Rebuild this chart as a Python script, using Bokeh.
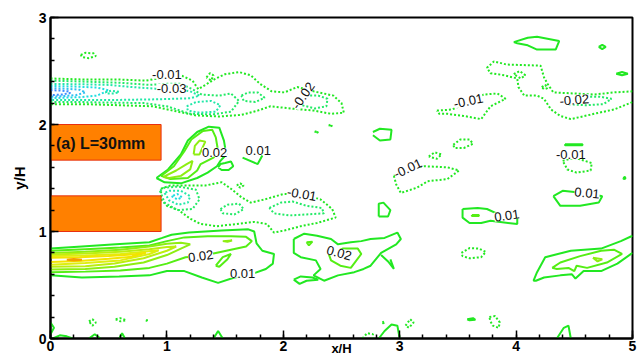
from bokeh.plotting import figure
from bokeh.models import ColumnDataSource, SingleIntervalTicker
from bokeh.embed import file_html
from bokeh.resources import INLINE
from bokeh.core.properties import value

# ---------------- data (x/H, y/H) ----------------
x_ticks_interval = 1
y_ticks_interval = 1

level_values = [-0.06, -0.05, -0.04, -0.03, -0.02, -0.01, 0.01, 0.02, 0.03, 0.04, 0.05, 0.06, 0.07]
level_colors = ["#3C8CFF", "#30C0F0", "#20DDE0", "#22E8A8", "#22EA66", "#22E822",
                "#22E822", "#55EE14", "#8EEE12", "#BBEE10", "#DDEE10", "#F2E400", "#F5A000"]

# cylinders (orange blocks)
block_left = [0.0, 0.0]
block_right = [0.95, 0.95]
block_bottom = [1.667, 1.0]
block_top = [2.0, 1.333]

# ---- positive (solid) contours ----
lo1_x = [0, 0.27, 0.56, 0.85, 0.96, 1.04, 1.19, 1.47, 1.70, 1.75, 1.77, 1.82, 1.92, 1.91, 1.85, 1.70, 1.58, 1.44, 1.30, 1.15, 1.0, 0.85, 0.59, 0.27, 0]
lo1_y = [0.84, 0.86, 0.88, 0.90, 0.94, 0.97, 0.99, 1.01, 1.02, 1.00, 0.89, 0.82, 0.79, 0.70, 0.65, 0.59, 0.57, 0.52, 0.57, 0.63, 0.63, 0.59, 0.58, 0.57, 0.59]
lo2_x = [0, 0.3, 0.6, 0.85, 1.0, 1.15, 1.35, 1.55, 1.68, 1.73, 1.68, 1.55, 1.42, 1.29, 1.16, 1.0, 0.85, 0.6, 0.3, 0]
lo2_y = [0.82, 0.835, 0.85, 0.87, 0.91, 0.945, 0.955, 0.955, 0.95, 0.91, 0.86, 0.83, 0.80, 0.77, 0.76, 0.70, 0.66, 0.635, 0.625, 0.62]
lo3_x = [0, 0.3, 0.6, 0.85, 1.0, 1.12, 1.2, 1.12, 1.0, 0.8, 0.55, 0.3, 0]
lo3_y = [0.80, 0.81, 0.83, 0.86, 0.885, 0.895, 0.88, 0.84, 0.78, 0.71, 0.67, 0.65, 0.645]
lo4_x = [0, 0.3, 0.6, 0.85, 1.0, 1.08, 1.0, 0.8, 0.55, 0.3, 0]
lo4_y = [0.785, 0.795, 0.81, 0.835, 0.855, 0.86, 0.82, 0.75, 0.70, 0.675, 0.67]
lo5_x = [0, 0.3, 0.6, 0.8, 0.93, 0.85, 0.6, 0.3, 0]
lo5_y = [0.77, 0.775, 0.79, 0.81, 0.825, 0.79, 0.73, 0.705, 0.69]
lo6_x = [0, 0.25, 0.5, 0.7, 0.82, 0.7, 0.5, 0.25, 0]
lo6_y = [0.755, 0.76, 0.77, 0.785, 0.80, 0.765, 0.745, 0.725, 0.715]
lo7_x = [0.14, 0.2, 0.27, 0.2, 0.14]
lo7_y = [0.735, 0.742, 0.735, 0.728, 0.735]
loa_x = [1.42, 1.48, 1.55, 1.52, 1.45, 1.42]
loa_y = [0.68, 0.76, 0.79, 0.74, 0.67, 0.68]
lob_x = [1.48, 1.56, 1.52, 1.48]
lob_y = [0.91, 0.915, 0.905, 0.91]

ub1_x = [0.91, 1.01, 1.12, 1.18, 1.26, 1.36, 1.45, 1.49, 1.51, 1.46, 1.43, 1.35, 1.26, 1.12, 0.98, 0.91]
ub1_y = [1.50, 1.58, 1.72, 1.85, 1.93, 1.98, 1.97, 1.85, 1.72, 1.66, 1.61, 1.55, 1.50, 1.45, 1.46, 1.50]
ubb_x = [1.44, 1.47, 1.53, 1.57, 1.55, 1.50, 1.46, 1.44]
ubb_y = [1.60, 1.575, 1.575, 1.61, 1.655, 1.64, 1.63, 1.60]
ub2_x = [0.95, 1.06, 1.15, 1.21, 1.31, 1.39, 1.42, 1.44, 1.40, 1.29, 1.26, 1.18, 1.03, 0.95]
ub2_y = [1.52, 1.61, 1.75, 1.86, 1.94, 1.95, 1.88, 1.75, 1.69, 1.63, 1.57, 1.50, 1.49, 1.52]
ub3a_x = [0.97, 1.08, 1.17, 1.22, 1.20, 1.12, 1.02, 0.97]
ub3a_y = [1.51, 1.57, 1.63, 1.66, 1.58, 1.52, 1.50, 1.51]
ub3b_x = [1.23, 1.24, 1.28, 1.33, 1.30, 1.28, 1.23]
ub3b_y = [1.72, 1.80, 1.85, 1.84, 1.77, 1.72, 1.72]
ubv_x = [1.65, 1.78, 1.82]
ubv_y = [1.69, 1.63, 1.71]

sa_x = [2.77, 2.83, 2.93, 2.92, 2.83, 2.77]
sa_y = [1.93, 1.96, 1.95, 1.86, 1.85, 1.90]
sb_x = [2.82, 2.82, 2.86, 2.92, 2.90, 2.82]
sb_y = [1.14, 1.26, 1.27, 1.20, 1.14, 1.14]

rtop_x = [3.98, 4.10, 4.18, 4.37, 4.34, 4.18, 4.10, 4.01, 3.98]
rtop_y = [2.77, 2.81, 2.82, 2.78, 2.70, 2.70, 2.74, 2.76, 2.77]
rdia_x = [4.71, 4.74, 4.77, 4.74, 4.71]
rdia_y = [2.725, 2.745, 2.725, 2.705, 2.725]
rblob_x = [4.86, 4.91, 4.96, 4.91, 4.86]
rblob_y = [2.475, 2.49, 2.475, 2.46, 2.475]
rdash_x = [4.42, 4.57, 4.57, 4.42, 4.42]
rdash_y = [1.815, 1.815, 1.805, 1.805, 1.815]
rl1_x = [4.32, 4.40, 4.50, 4.61, 4.74, 4.71, 4.55, 4.38, 4.32]
rl1_y = [1.33, 1.38, 1.37, 1.36, 1.33, 1.27, 1.24, 1.24, 1.33]
rl2_x = [3.54, 3.67, 3.75, 3.85, 4.01, 4.01, 3.78, 3.70, 3.60, 3.54, 3.54]
rl2_y = [1.21, 1.22, 1.21, 1.16, 1.13, 1.07, 1.10, 1.08, 1.08, 1.13, 1.21]
rl2i_x = [3.62, 3.68, 3.68, 3.62, 3.62]
rl2i_y = [1.155, 1.155, 1.145, 1.145, 1.155]
rtiny_x = [4.92, 4.935, 4.94, 4.925, 4.92]
rtiny_y = [1.50, 1.51, 1.495, 1.49, 1.50]

rb1_x = [5.0, 4.90, 4.73, 4.47, 4.25, 4.18, 4.15, 4.17, 4.24, 4.38, 4.48, 4.51, 4.58, 4.73, 4.87, 5.0]
rb1_y = [0.96, 0.91, 0.84, 0.82, 0.76, 0.62, 0.54, 0.54, 0.57, 0.59, 0.60, 0.56, 0.63, 0.63, 0.70, 0.80]
rb2_x = [4.31, 4.38, 4.55, 4.73, 4.84, 4.91, 4.78, 4.61, 4.52, 4.50, 4.45, 4.35, 4.31]
rb2_y = [0.66, 0.71, 0.77, 0.82, 0.83, 0.79, 0.71, 0.66, 0.68, 0.63, 0.66, 0.65, 0.66]
rb3_x = [4.66, 4.74, 4.70, 4.66]
rb3_y = [0.755, 0.74, 0.72, 0.755]

mb1_x = [2.09, 2.18, 2.29, 2.41, 2.47, 2.58, 2.67, 2.75, 2.87, 2.98, 3.01, 2.97, 2.84, 2.75, 2.69, 2.61, 2.47, 2.35, 2.26, 2.32, 2.28, 2.15, 2.09, 2.09]
mb1_y = [0.93, 0.98, 0.96, 0.93, 0.88, 0.90, 0.91, 0.93, 0.94, 0.99, 0.93, 0.88, 0.80, 0.68, 0.65, 0.62, 0.59, 0.54, 0.59, 0.65, 0.73, 0.76, 0.80, 0.93]
mbt_x = [2.09, 2.15, 2.25, 2.30, 2.20, 2.14, 2.09]
mbt_y = [0.55, 0.58, 0.57, 0.55, 0.54, 0.51, 0.55]
mb2_x = [2.39, 2.51, 2.64, 2.67, 2.58, 2.49, 2.41, 2.39]
mb2_y = [0.79, 0.84, 0.84, 0.79, 0.66, 0.68, 0.73, 0.79]
mbs_x = [2.20, 2.25, 2.22, 2.20]
mbs_y = [0.90, 0.905, 0.87, 0.90]
mbk_x = [2.84, 2.90, 2.95, 2.92]
mbk_y = [0.78, 0.72, 0.65, 0.74]

bl1_x = [0, 0.03, 0.0]
bl1_y = [0.15, 0.10, 0.04]
bl2_x = [0.02, 0.08, 0.14, 0.19]
bl2_y = [0.0, 0.03, 0.02, 0.0]
bl3_x = [0.33, 0.38, 0.43]
bl3_y = [0.0, 0.04, 0.0]
bl4_x = [0.59, 0.615, 0.64]
bl4_y = [0.0, 0.05, 0.0]
bl5_x = [1.40, 1.44, 1.48]
bl5_y = [0.0, 0.07, 0.0]
bl6_x = [2.82, 2.87, 2.93, 2.98, 3.0]
bl6_y = [0.0, 0.07, 0.13, 0.12, 0.0]
bl7_x = [4.35, 4.41, 4.45, 4.47]
bl7_y = [0.0, 0.1, 0.12, 0.0]
bl8_x = [3.58, 3.63, 3.65, 3.60, 3.58]
bl8_y = [0.18, 0.19, 0.175, 0.17, 0.18]

# ---- negative (dotted) contours ----
tn1_x = [0, 0.3, 0.6, 0.82, 0.92, 1.0, 1.12, 1.22, 1.27, 1.33, 1.42, 1.50, 1.62, 1.72, 1.80, 1.90, 2.01, 2.12, 2.26, 2.43, 2.50, 2.52, 2.41, 2.26, 2.06, 1.89, 1.78, 1.64, 1.45, 1.25, 1.05, 0.88, 0.6, 0.3, 0]
tn1_y = [2.43, 2.42, 2.42, 2.41, 2.43, 2.45, 2.46, 2.41, 2.33, 2.37, 2.43, 2.47, 2.49, 2.46, 2.38, 2.31, 2.30, 2.35, 2.31, 2.27, 2.20, 2.11, 2.10, 2.13, 2.15, 2.17, 2.13, 2.09, 2.075, 2.085, 2.13, 2.17, 2.18, 2.19, 2.19]
tn2_x = [0, 0.3, 0.6, 0.85, 1.0, 1.12, 1.22, 1.3, 1.45, 1.55, 1.62, 1.55, 1.40, 1.20, 1.0, 0.8, 0.5, 0.25, 0]
tn2_y = [2.41, 2.40, 2.39, 2.37, 2.38, 2.38, 2.33, 2.28, 2.27, 2.29, 2.22, 2.12, 2.095, 2.10, 2.17, 2.20, 2.205, 2.21, 2.21]
tn2b_x = [1.64, 1.70, 1.78, 1.84, 1.76, 1.66, 1.64]
tn2b_y = [2.27, 2.30, 2.30, 2.25, 2.21, 2.22, 2.27]
tn2c_x = [2.13, 2.20, 2.30, 2.38, 2.37, 2.27, 2.16, 2.13]
tn2c_y = [2.25, 2.27, 2.27, 2.24, 2.17, 2.15, 2.18, 2.25]
tn3_x = [0, 0.3, 0.5, 0.7, 0.9, 1.05, 1.2, 1.28, 1.2, 1.05, 0.9, 0.6, 0.3, 0]
tn3_y = [2.38, 2.375, 2.37, 2.35, 2.335, 2.33, 2.31, 2.27, 2.245, 2.24, 2.235, 2.23, 2.23, 2.23]
tn3b_x = [1.17, 1.25, 1.38, 1.46, 1.42, 1.28, 1.18, 1.17]
tn3b_y = [2.17, 2.21, 2.22, 2.18, 2.12, 2.11, 2.13, 2.17]
tn4_x = [0, 0.2, 0.4, 0.5, 0.4, 0.25, 0.1, 0]
tn4_y = [2.36, 2.355, 2.345, 2.32, 2.27, 2.255, 2.25, 2.245]
tn5_x = [0, 0.12, 0.25, 0.3, 0.22, 0.1, 0]
tn5_y = [2.34, 2.335, 2.325, 2.30, 2.275, 2.265, 2.26]
tn6_x = [0, 0.08, 0.15, 0.17, 0.1, 0]
tn6_y = [2.32, 2.318, 2.31, 2.295, 2.28, 2.275]
tnl_x = [0.47, 0.52, 0.59, 0.55, 0.49, 0.47]
tnl_y = [2.30, 2.315, 2.305, 2.29, 2.29, 2.30]
tns1_x = [0.26, 0.3, 0.37, 0.39, 0.33, 0.27, 0.26]
tns1_y = [2.65, 2.67, 2.665, 2.64, 2.62, 2.63, 2.65]
tns2_x = [1.34, 1.37, 1.40, 1.38, 1.34]
tns2_y = [2.44, 2.48, 2.46, 2.41, 2.44]
tns3_x = [2.27, 2.29, 2.30, 2.28, 2.27]
tns3_y = [1.93, 1.94, 1.93, 1.92, 1.93]
tns4_x = [2.39, 2.41, 2.42, 2.40, 2.39]
tns4_y = [1.99, 2.0, 1.99, 1.98, 1.99]

mn1_x = [0.95, 1.03, 1.21, 1.33, 1.47, 1.55, 1.64, 1.72, 1.84, 2.0, 2.16, 2.32, 2.42, 2.45, 2.29, 2.15, 2.01, 1.92, 1.86, 1.75, 1.60, 1.43, 1.29, 1.20, 1.10, 1.0, 0.95, 0.95]
mn1_y = [1.40, 1.43, 1.43, 1.43, 1.46, 1.40, 1.32, 1.27, 1.30, 1.35, 1.35, 1.30, 1.21, 1.13, 1.08, 1.05, 1.01, 0.99, 1.07, 1.09, 1.07, 1.05, 1.07, 1.12, 1.20, 1.24, 1.30, 1.40]
mn2_x = [0.94, 0.98, 1.09, 1.22, 1.28, 1.25, 1.10, 0.98, 0.94]
mn2_y = [1.38, 1.27, 1.20, 1.21, 1.30, 1.39, 1.42, 1.41, 1.38]
mn3_x = [0.98, 1.02, 1.10, 1.18, 1.20, 1.12, 1.02, 0.98]
mn3_y = [1.36, 1.29, 1.25, 1.27, 1.33, 1.38, 1.38, 1.36]
mn4_x = [1.04, 1.09, 1.13, 1.09, 1.04]
mn4_y = [1.33, 1.30, 1.32, 1.35, 1.33]
mn5_x = [1.46, 1.52, 1.62, 1.66, 1.58, 1.48, 1.46]
mn5_y = [1.21, 1.25, 1.26, 1.21, 1.16, 1.17, 1.21]
mn6_x = [1.88, 1.98, 2.08, 2.20, 2.33, 2.35, 2.20, 2.05, 1.92, 1.88]
mn6_y = [1.22, 1.27, 1.28, 1.24, 1.22, 1.17, 1.16, 1.15, 1.17, 1.22]
mns_x = [1.60, 1.63, 1.66, 1.63, 1.60]
mns_y = [1.43, 1.45, 1.43, 1.41, 1.43]

rt1_x = [5.0, 4.84, 4.67, 4.50, 4.32, 4.27, 4.24, 4.21, 3.92, 3.81, 3.75, 3.78, 3.90, 4.01, 4.02, 4.07, 4.18, 4.24, 4.30, 4.38, 4.47, 4.67, 4.84, 5.0]
rt1_y = [2.31, 2.30, 2.28, 2.29, 2.30, 2.38, 2.44, 2.55, 2.56, 2.59, 2.53, 2.48, 2.46, 2.43, 2.35, 2.27, 2.27, 2.24, 2.14, 2.08, 2.05, 2.10, 2.14, 2.21]
rt2_x = [4.40, 4.55, 4.72, 4.82, 4.75, 4.60, 4.45, 4.40]
rt2_y = [2.22, 2.26, 2.26, 2.24, 2.19, 2.18, 2.19, 2.22]
rt3_x = [3.98, 4.03, 4.08, 4.04, 3.98]
rt3_y = [2.47, 2.50, 2.46, 2.43, 2.47]
rt4_x = [4.22, 4.25, 4.27, 4.24, 4.22]
rt4_y = [2.35, 2.37, 2.34, 2.33, 2.35]
rt5_x = [3.32, 3.45, 3.59, 3.72, 3.84, 3.91, 3.78, 3.70, 3.55, 3.41, 3.34, 3.32]
rt5_y = [2.13, 2.14, 2.21, 2.28, 2.29, 2.24, 2.17, 2.05, 2.08, 2.10, 2.10, 2.13]
rt6_x = [3.46, 3.52, 3.60, 3.63, 3.55, 3.47, 3.46]
rt6_y = [1.81, 1.86, 1.86, 1.82, 1.78, 1.78, 1.81]
rt7_x = [2.95, 3.07, 3.21, 3.41, 3.51, 3.41, 3.24, 3.15, 3.01, 2.97, 2.95]
rt7_y = [1.52, 1.59, 1.61, 1.60, 1.57, 1.49, 1.47, 1.41, 1.36, 1.44, 1.52]
rt8_x = [3.25, 3.30, 3.36, 3.32, 3.25]
rt8_y = [1.70, 1.74, 1.72, 1.68, 1.70]
rt9_x = [4.40, 4.50, 4.65, 4.64, 4.52, 4.44, 4.40]
rt9_y = [1.66, 1.69, 1.64, 1.57, 1.55, 1.58, 1.66]
rt10_x = [3.53, 3.60, 3.68, 3.74, 3.70, 3.60, 3.54, 3.53]
rt10_y = [0.80, 0.845, 0.84, 0.81, 0.76, 0.75, 0.77, 0.80]

bd1_x = [0.33, 0.36, 0.39, 0.36, 0.33]
bd1_y = [0.16, 0.18, 0.15, 0.12, 0.16]
bd2_x = [0.56, 0.60, 0.65, 0.60, 0.56]
bd2_y = [0.18, 0.19, 0.17, 0.16, 0.18]
bd3_x = [0.82, 0.84, 0.83, 0.82]
bd3_y = [0.17, 0.17, 0.16, 0.17]
bd4_x = [2.68, 2.72, 2.77, 2.77]
bd4_y = [0.0, 0.05, 0.04, 0.0]
bd5_x = [3.05, 3.09, 3.12, 3.08, 3.05]
bd5_y = [0.12, 0.18, 0.15, 0.10, 0.12]
bd6_x = [3.77, 3.82, 3.86, 3.85, 3.80, 3.78, 3.77]
bd6_y = [0.20, 0.21, 0.15, 0.10, 0.12, 0.16, 0.20]
bd7_x = [2.85, 2.87, 2.86, 2.85]
bd7_y = [0.15, 0.16, 0.14, 0.15]

# contour labels
lab_x = [1.00, 1.04, 2.17, 1.41, 1.785, 2.16, 1.29, 1.65, 2.48, 3.59, 4.50, 3.07, 4.47, 4.61, 3.92]
lab_y = [2.47, 2.34, 2.27, 1.74, 1.76, 1.35, 0.77, 0.61, 0.80, 2.22, 2.23, 1.59, 1.72, 1.36, 1.15]
lab_text = ["-0.01", "-0.03", "-0.02", "0.02", "0.01", "-0.01", "0.02", "0.01", "0.02",
            "-0.01", "-0.02", "-0.01", "-0.01", "0.01", "0.01"]
lab_angle = [0, 0, 55, 0, 0, -10, 8, 0, -15, 12, 5, 25, 0, -5, 8]

contours = [
    (0.01, lo1_x, lo1_y), (0.02, lo2_x, lo2_y), (0.03, lo3_x, lo3_y), (0.04, lo4_x, lo4_y),
    (0.05, lo5_x, lo5_y), (0.06, lo6_x, lo6_y), (0.07, lo7_x, lo7_y), (0.02, loa_x, loa_y),
    (0.03, lob_x, lob_y),
    (0.01, ub1_x, ub1_y), (0.01, ubb_x, ubb_y), (0.02, ub2_x, ub2_y), (0.03, ub3a_x, ub3a_y),
    (0.03, ub3b_x, ub3b_y), (0.01, ubv_x, ubv_y), (0.01, sa_x, sa_y), (0.01, sb_x, sb_y),
    (0.01, rtop_x, rtop_y), (0.01, rdia_x, rdia_y), (0.01, rblob_x, rblob_y), (0.01, rdash_x, rdash_y),
    (0.01, rl1_x, rl1_y), (0.01, rl2_x, rl2_y), (0.02, rl2i_x, rl2i_y), (0.01, rtiny_x, rtiny_y),
    (0.01, rb1_x, rb1_y), (0.02, rb2_x, rb2_y), (0.03, rb3_x, rb3_y),
    (0.01, mb1_x, mb1_y), (0.01, mbt_x, mbt_y), (0.02, mb2_x, mb2_y), (0.02, mbs_x, mbs_y),
    (0.01, mbk_x, mbk_y),
    (0.01, bl1_x, bl1_y), (0.01, bl2_x, bl2_y), (0.01, bl3_x, bl3_y), (0.01, bl4_x, bl4_y),
    (0.01, bl5_x, bl5_y), (0.01, bl6_x, bl6_y), (0.01, bl7_x, bl7_y), (0.01, bl8_x, bl8_y),
    (-0.01, tn1_x, tn1_y), (-0.02, tn2_x, tn2_y), (-0.02, tn2b_x, tn2b_y), (-0.02, tn2c_x, tn2c_y),
    (-0.03, tn3_x, tn3_y), (-0.03, tn3b_x, tn3b_y), (-0.04, tn4_x, tn4_y), (-0.05, tn5_x, tn5_y),
    (-0.06, tn6_x, tn6_y), (-0.03, tnl_x, tnl_y), (-0.01, tns1_x, tns1_y), (-0.01, tns2_x, tns2_y),
    (-0.01, tns3_x, tns3_y), (-0.01, tns4_x, tns4_y),
    (-0.01, mn1_x, mn1_y), (-0.02, mn2_x, mn2_y), (-0.03, mn3_x, mn3_y), (-0.04, mn4_x, mn4_y),
    (-0.02, mn5_x, mn5_y), (-0.02, mn6_x, mn6_y), (-0.01, mns_x, mns_y),
    (-0.01, rt1_x, rt1_y), (-0.02, rt2_x, rt2_y), (-0.01, rt3_x, rt3_y), (-0.01, rt4_x, rt4_y),
    (-0.01, rt5_x, rt5_y), (-0.01, rt6_x, rt6_y), (-0.01, rt7_x, rt7_y), (-0.01, rt8_x, rt8_y),
    (-0.01, rt9_x, rt9_y), (-0.01, rt10_x, rt10_y),
    (-0.01, bd1_x, bd1_y), (-0.01, bd2_x, bd2_y), (-0.01, bd3_x, bd3_y), (-0.01, bd4_x, bd4_y),
    (-0.01, bd5_x, bd5_y), (-0.01, bd6_x, bd6_y), (-0.01, bd7_x, bd7_y),
]

color_of = dict(zip(level_values, level_colors))

pos = dict(xs=[], ys=[], color=[])
neg = dict(xs=[], ys=[], color=[])
for lev, xs, ys in contours:
    d = pos if lev > 0 else neg
    d["xs"].append(xs)
    d["ys"].append(ys)
    d["color"].append(color_of[lev])

# ---------------- figure ----------------
FONT = "Liberation Sans"
p = figure(width=638, height=361, x_range=(0, 5), y_range=(0, 3),
           output_backend="svg", toolbar_location=None,
           min_border_left=50, min_border_right=6, min_border_top=17, min_border_bottom=23)
p.background_fill_color = "white"
p.border_fill_color = "white"
p.grid.visible = False
p.outline_line_color = "black"
p.outline_line_width = 2

p.multi_line(xs="xs", ys="ys", line_color="color", line_width=2,
             source=ColumnDataSource(pos))
p.multi_line(xs="xs", ys="ys", line_color="color", line_width=2, line_dash="2 2",
             source=ColumnDataSource(neg))

p.quad(left=block_left, right=block_right, bottom=block_bottom, top=block_top,
       fill_color="#FF8000", line_color="#E83010", line_width=1)

p.text(x=[0.047], y=[1.824], text=["(a) L=30mm"], text_font=value(FONT),
       text_font_style="bold", text_font_size="16px", text_color="#111111",
       text_align="left", text_baseline="middle")

p.text(x="x", y="y", text="text", angle="angle", angle_units="deg",
       source=ColumnDataSource(dict(x=lab_x, y=lab_y, text=lab_text, angle=lab_angle)),
       text_font=value(FONT), text_font_size="13px", text_color="#111111",
       text_align="center", text_baseline="middle",
       background_fill_color="white", background_fill_alpha=1.0)

for ax, itv in ((p.xaxis, x_ticks_interval), (p.yaxis, y_ticks_interval)):
    ax.ticker = SingleIntervalTicker(interval=itv, num_minor_ticks=5)
    ax.axis_line_width = 2
    ax.axis_line_color = "black"
    ax.major_tick_in = 8
    ax.major_tick_out = 0
    ax.minor_tick_in = 4
    ax.minor_tick_out = 0
    ax.major_tick_line_width = 1.5
    ax.minor_tick_line_width = 1.5
    ax.major_tick_line_color = "black"
    ax.minor_tick_line_color = "black"
    ax.major_label_text_font = FONT
    ax.major_label_text_font_style = "bold"
    ax.major_label_text_font_size = "14px"
    ax.major_label_text_color = "black"
    ax.axis_label_text_font = FONT
    ax.axis_label_text_font_style = "bold"
    ax.axis_label_text_color = "black"

p.xaxis.major_label_standoff = 2
p.xaxis.axis_label = "x/H"
p.xaxis.axis_label_text_font_size = "13px"
p.xaxis.axis_label_standoff = -13

p.yaxis.major_label_standoff = 4
p.yaxis.axis_label = "y/H"
p.yaxis.axis_label_text_font_size = "15px"
p.yaxis.axis_label_standoff = 8

open("out.html", "w").write(file_html(p, INLINE))
